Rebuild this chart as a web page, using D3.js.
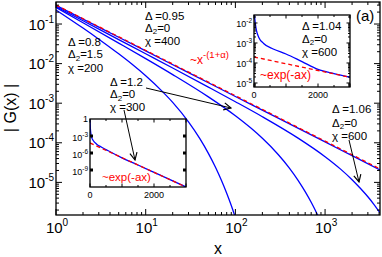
<!DOCTYPE html>
<html><head><meta charset="utf-8">
<script src="https://cdn.jsdelivr.net/npm/d3@7"></script>
<style>body{margin:0;background:#fff}svg{display:block;font-family:"Liberation Sans",Arial,sans-serif}</style>
</head><body><svg id="c" width="382" height="257"></svg>
<script>
// ---------- data ----------
// red dashed power law ~x^-(1+alpha)
const powX = [1, 4096];
const powG = [0.302, 2.19e-5];
// Delta=0.95, Delta2=0, chi=400
const c1X = [1, 3, 10, 30, 100, 300, 1000, 2000, 4096];
const c1G = [0.295, 0.0834, 0.0209, 0.0059, 0.00148, 4.18e-4, 1.05e-4, 4.72e-5, 2.07e-5];
// Delta=1.06, Delta2=0, chi=600
const c2X = [1, 2, 5, 10, 20, 50, 100, 200, 500, 1000, 1500, 2000, 2500, 3000, 3500, 4096];
const c2G = [0.275, 0.121, 0.0405, 0.0177, 0.00773, 0.00255, 0.00109, 4.55e-4, 1.31e-4, 4.45e-5, 2.13e-5, 1.17e-5, 6.9e-6, 4.33e-6, 2.79e-6, 1.70e-6];
// Delta=1.2, Delta2=0, chi=300
const c3X = [1, 2, 5, 10, 20, 50, 100, 150, 200, 300, 400, 500, 600, 700, 800, 900];
const c3G = [0.262, 0.1076, 0.033, 0.01337, 0.00528, 0.001445, 4.82e-4, 2.32e-4, 1.30e-4, 5.07e-5, 2.30e-5, 1.13e-5, 5.86e-6, 3.15e-6, 1.74e-6, 9.8e-7];
// Delta=0.8, Delta2=1.5, chi=200
const c4X = [1, 2, 3, 5, 7, 10, 15, 20, 30, 40, 50, 60, 70, 80, 90, 100];
const c4G = [0.227, 0.079, 0.0414, 0.01766, 0.00975, 0.00493, 0.00208, 0.00105, 3.37e-4, 1.29e-4, 5.4e-5, 2.4e-5, 1.11e-5, 5.3e-6, 2.6e-6, 1.29e-6];
// inset 1 (Delta=1.2, chi=300), linear x
const in1BlueX = [0, 10, 25, 50, 100, 200, 350, 500, 700, 1000, 1500, 2000, 2500, 3000];
const in1BlueG = [1, 0.0316, 3.16e-3, 6.3e-4, 1.58e-4, 3.98e-5, 1.12e-5, 3.98e-6, 1e-6, 1.41e-7, 7.6e-9, 3.9e-10, 2e-11, 1e-12];
const in1RedX = [0, 3000];
const in1RedG = [5.9e-5, 1e-12];
// inset 2 (Delta=1.04, chi=600)
const in2BlueX = [5, 15, 40, 80, 150, 300, 600, 1000, 1500, 2000, 2500, 3000];
const in2BlueG = [0.063, 0.0282, 0.01, 0.00398, 0.0019, 9.5e-4, 5.0e-4, 2.82e-4, 1.17e-4, 4.8e-5, 2.95e-5, 1.93e-5];
const in2RedX = [0, 3000];
const in2RedG = [2.0e-4, 1.93e-5];
// tick labels
const mainXTicks = [1, 10, 100, 1000];
const mainXExp = ["0", "1", "2", "3"];
const mainYTicks = [1e-1, 1e-2, 1e-3, 1e-4, 1e-5];
const mainYExp = ["-1", "-2", "-3", "-4", "-5"];
const in1YTicks = [1e-3, 1e-6, 1e-9];
const in1YExp = ["-3", "-6", "-9"];
const in2YTicks = [1e-2, 1e-3, 1e-4, 1e-5];
const in2YExp = ["-2", "-3", "-4", "-5"];
const inXLabels = [0, 2000];

// ---------- drawing ----------
const svg = d3.select("#c");
const BLUE = "#0000ff", RED = "#ff0000";
const M = {l: 56, r: 380, t: 2, b: 215};
const x = d3.scaleLog().domain([1, 4096]).range([M.l, M.r]);
const y = d3.scaleLog().domain([1.5e-6, 0.36]).range([M.b, M.t]);

const defs = svg.append("defs");
function clip(id, x0, y0, w, h) {
  defs.append("clipPath").attr("id", id).append("rect").attr("x", x0).attr("y", y0).attr("width", w).attr("height", h);
}
clip("cm", M.l, M.t, M.r - M.l, M.b - M.t);
defs.append("marker").attr("id", "arr").attr("viewBox", "0 0 10 10").attr("refX", 9).attr("refY", 5)
  .attr("markerWidth", 9).attr("markerHeight", 9).attr("markerUnits", "userSpaceOnUse").attr("orient", "auto")
  .append("path").attr("d", "M1,1 L9,5 L1,9").attr("fill", "none").attr("stroke", "#000").attr("stroke-width", 1.3);

function drawLine(g, sx, sy, xs, ys, color, dash, curve) {
  const pts = xs.map((v, i) => [v, ys[i]]);
  g.append("path").datum(pts)
    .attr("d", d3.line().x(d => sx(d[0])).y(d => sy(d[1])).curve(curve || d3.curveMonotoneX))
    .attr("fill", "none").attr("stroke", color).attr("stroke-width", 1.3)
    .attr("stroke-dasharray", dash || null);
}
function supText(g, px, py, base, sup, fs, sfs, anchor, color, dy) {
  const t = g.append("text").attr("x", px).attr("y", py).attr("font-size", fs)
    .attr("text-anchor", anchor).attr("fill", color || "#000");
  t.append("tspan").text(base);
  t.append("tspan").attr("font-size", sfs).attr("dy", -dy).text(sup);
  return t;
}
function deltaBlock(g, px, py, lines, dy) {
  const fs = 11.5;
  g.append("text").attr("x", px).attr("y", py).attr("font-size", fs).text("Δ =" + lines[0]);
  const t = g.append("text").attr("x", px).attr("y", py + dy[0]).attr("font-size", fs);
  t.append("tspan").text("Δ");
  t.append("tspan").attr("font-size", 8).attr("dy", 2.5).text("2");
  t.append("tspan").attr("dy", -2.5).text("=" + lines[1]);
  g.append("text").attr("x", px).attr("y", py + dy[1]).attr("font-size", fs).text("χ =" + lines[2]);
}

// main curves
const gm = svg.append("g").attr("clip-path", "url(#cm)");
drawLine(gm, x, y, c4X, c4G, BLUE);
drawLine(gm, x, y, c3X, c3G, BLUE);
drawLine(gm, x, y, c2X, c2G, BLUE);
drawLine(gm, x, y, c1X, c1G, BLUE);
drawLine(gm, x, y, powX, powG, RED, "4,3", d3.curveLinear);

// main frame & ticks
const ga = svg.append("g").attr("stroke", "#000").attr("stroke-width", 1);
function isMajor(t) { const l = Math.log10(t); return Math.abs(l - Math.round(l)) < 1e-9; }
x.ticks().forEach(t => {
  const L = isMajor(t) ? 6 : 3, px = x(t);
  ga.append("line").attr("x1", px).attr("x2", px).attr("y1", M.b).attr("y2", M.b - L);
  ga.append("line").attr("x1", px).attr("x2", px).attr("y1", M.t).attr("y2", M.t + L);
});
y.ticks().forEach(t => {
  const L = isMajor(t) ? 6 : 3, py = y(t);
  ga.append("line").attr("x1", M.l).attr("x2", M.l + L).attr("y1", py).attr("y2", py);
  ga.append("line").attr("x1", M.r).attr("x2", M.r - L).attr("y1", py).attr("y2", py);
});
svg.append("rect").attr("x", M.l).attr("y", M.t).attr("width", M.r - M.l).attr("height", M.b - M.t)
  .attr("fill", "none").attr("stroke", "#000").attr("stroke-width", 1.3);

mainXTicks.forEach((t, i) => supText(svg, x(t) + 1, 233, "10", mainXExp[i], 15, 10, "middle", "#000", 7));
mainYTicks.forEach((t, i) => supText(svg, 54, y(t) + 5.5, "10", mainYExp[i], 15, 10, "end", "#000", 7));

svg.append("text").attr("x", (M.l + M.r) / 2).attr("y", 254).attr("text-anchor", "middle").attr("font-size", 16).text("x");
svg.append("text").attr("transform", "translate(16,108) rotate(-90)").attr("text-anchor", "middle")
  .attr("font-size", 16).text("| G(x) |");

// ---------- insets ----------
function inset(id, x0, x1, y0, y1, xs, ys, blueX, blueG, redX, redG, yTicks, yExp, squares) {
  clip(id, x0, y0, x1 - x0, y1 - y0);
  svg.append("rect").attr("x", x0).attr("y", y0).attr("width", x1 - x0).attr("height", y1 - y0).attr("fill", "#fff");
  const g = svg.append("g").attr("clip-path", "url(#" + id + ")");
  drawLine(g, xs, ys, blueX, blueG, BLUE);
  drawLine(g, xs, ys, redX, redG, RED, "4,3", d3.curveLinear);
  const gt = svg.append("g").attr("stroke", "#000").attr("stroke-width", 1);
  d3.range(0, 3001, 500).forEach(t => {
    const L = t % 1000 === 0 ? 3.5 : 2, px = xs(t);
    gt.append("line").attr("x1", px).attr("x2", px).attr("y1", y1).attr("y2", y1 - L);
    gt.append("line").attr("x1", px).attr("x2", px).attr("y1", y0).attr("y2", y0 + L);
  });
  if (squares) {
    yTicks.forEach(t => {
      const py = ys(t);
      svg.append("rect").attr("x", x0).attr("y", py - 1.5).attr("width", 3).attr("height", 3).attr("fill", "#000");
      svg.append("rect").attr("x", x1 - 3).attr("y", py - 1.5).attr("width", 3).attr("height", 3).attr("fill", "#000");
    });
  } else {
    ys.ticks().forEach(t => {
      const L = isMajor(t) ? 3.5 : 2, py = ys(t);
      gt.append("line").attr("x1", x0).attr("x2", x0 + L).attr("y1", py).attr("y2", py);
      gt.append("line").attr("x1", x1).attr("x2", x1 - L).attr("y1", py).attr("y2", py);
    });
  }
  svg.append("rect").attr("x", x0).attr("y", y0).attr("width", x1 - x0).attr("height", y1 - y0)
    .attr("fill", "none").attr("stroke", "#000").attr("stroke-width", 1.3);
  yTicks.forEach((t, i) => supText(svg, x0 - 2, ys(t) + 4.5, "10", yExp[i], 9, 6.5, "end", "#000", 4));
  inXLabels.forEach(t => svg.append("text").attr("x", xs(t)).attr("y", y1 + 10.5).attr("text-anchor", "middle")
    .attr("font-size", 9).text(t));
}

const x1s = d3.scaleLinear().domain([0, 3000]).range([90, 186]);
const y1s = d3.scaleLog().domain([1e-12, 1]).range([187, 119]);
inset("ci1", 90, 186, 119, 187, x1s, y1s, in1BlueX, in1BlueG, in1RedX, in1RedG, in1YTicks, in1YExp, true);
svg.append("text").attr("x", 88).attr("y", 122).attr("text-anchor", "end").attr("font-size", 9).text("1");
svg.append("text").attr("x", 102).attr("y", 181).attr("font-size", 11.5).attr("fill", RED).text("~exp(-ax)");

const x2s = d3.scaleLinear().domain([0, 3000]).range([254, 350]);
const y2s = d3.scaleLog().domain([6.3e-6, 0.0251]).range([87, 15]);
inset("ci2", 254, 350, 15, 87, x2s, y2s, in2BlueX, in2BlueG, in2RedX, in2RedG, in2YTicks, in2YExp, false);
svg.append("text").attr("x", 260).attr("y", 79).attr("font-size", 12).attr("fill", RED).text("~exp(-ax)");
deltaBlock(svg, 302, 29.5, ["1.04", "0", "600"], [13, 26.5]);

// ---------- annotations ----------
deltaBlock(svg, 68, 46, ["0.8", "1.5", "200"], [12, 25.5]);
deltaBlock(svg, 145, 19.5, ["0.95", "0", "400"], [12, 25]);
deltaBlock(svg, 110, 86, ["1.2", "0", "300"], [12, 25]);
deltaBlock(svg, 332, 112.5, ["1.06", "0", "600"], [14, 27]);
supText(svg, 190, 64, "~x", "-(1+α)", 12, 9.5, "start", RED, 6);
svg.append("text").attr("x", 356).attr("y", 21).attr("font-size", 15).text("(a)");

const arrows = [[124, 110, 135, 160], [146, 88, 231, 108], [349, 140, 359, 182]];
arrows.forEach(a => svg.append("line").attr("x1", a[0]).attr("y1", a[1]).attr("x2", a[2]).attr("y2", a[3])
  .attr("stroke", "#000").attr("stroke-width", 1).attr("marker-end", "url(#arr)"));
</script></body></html>
